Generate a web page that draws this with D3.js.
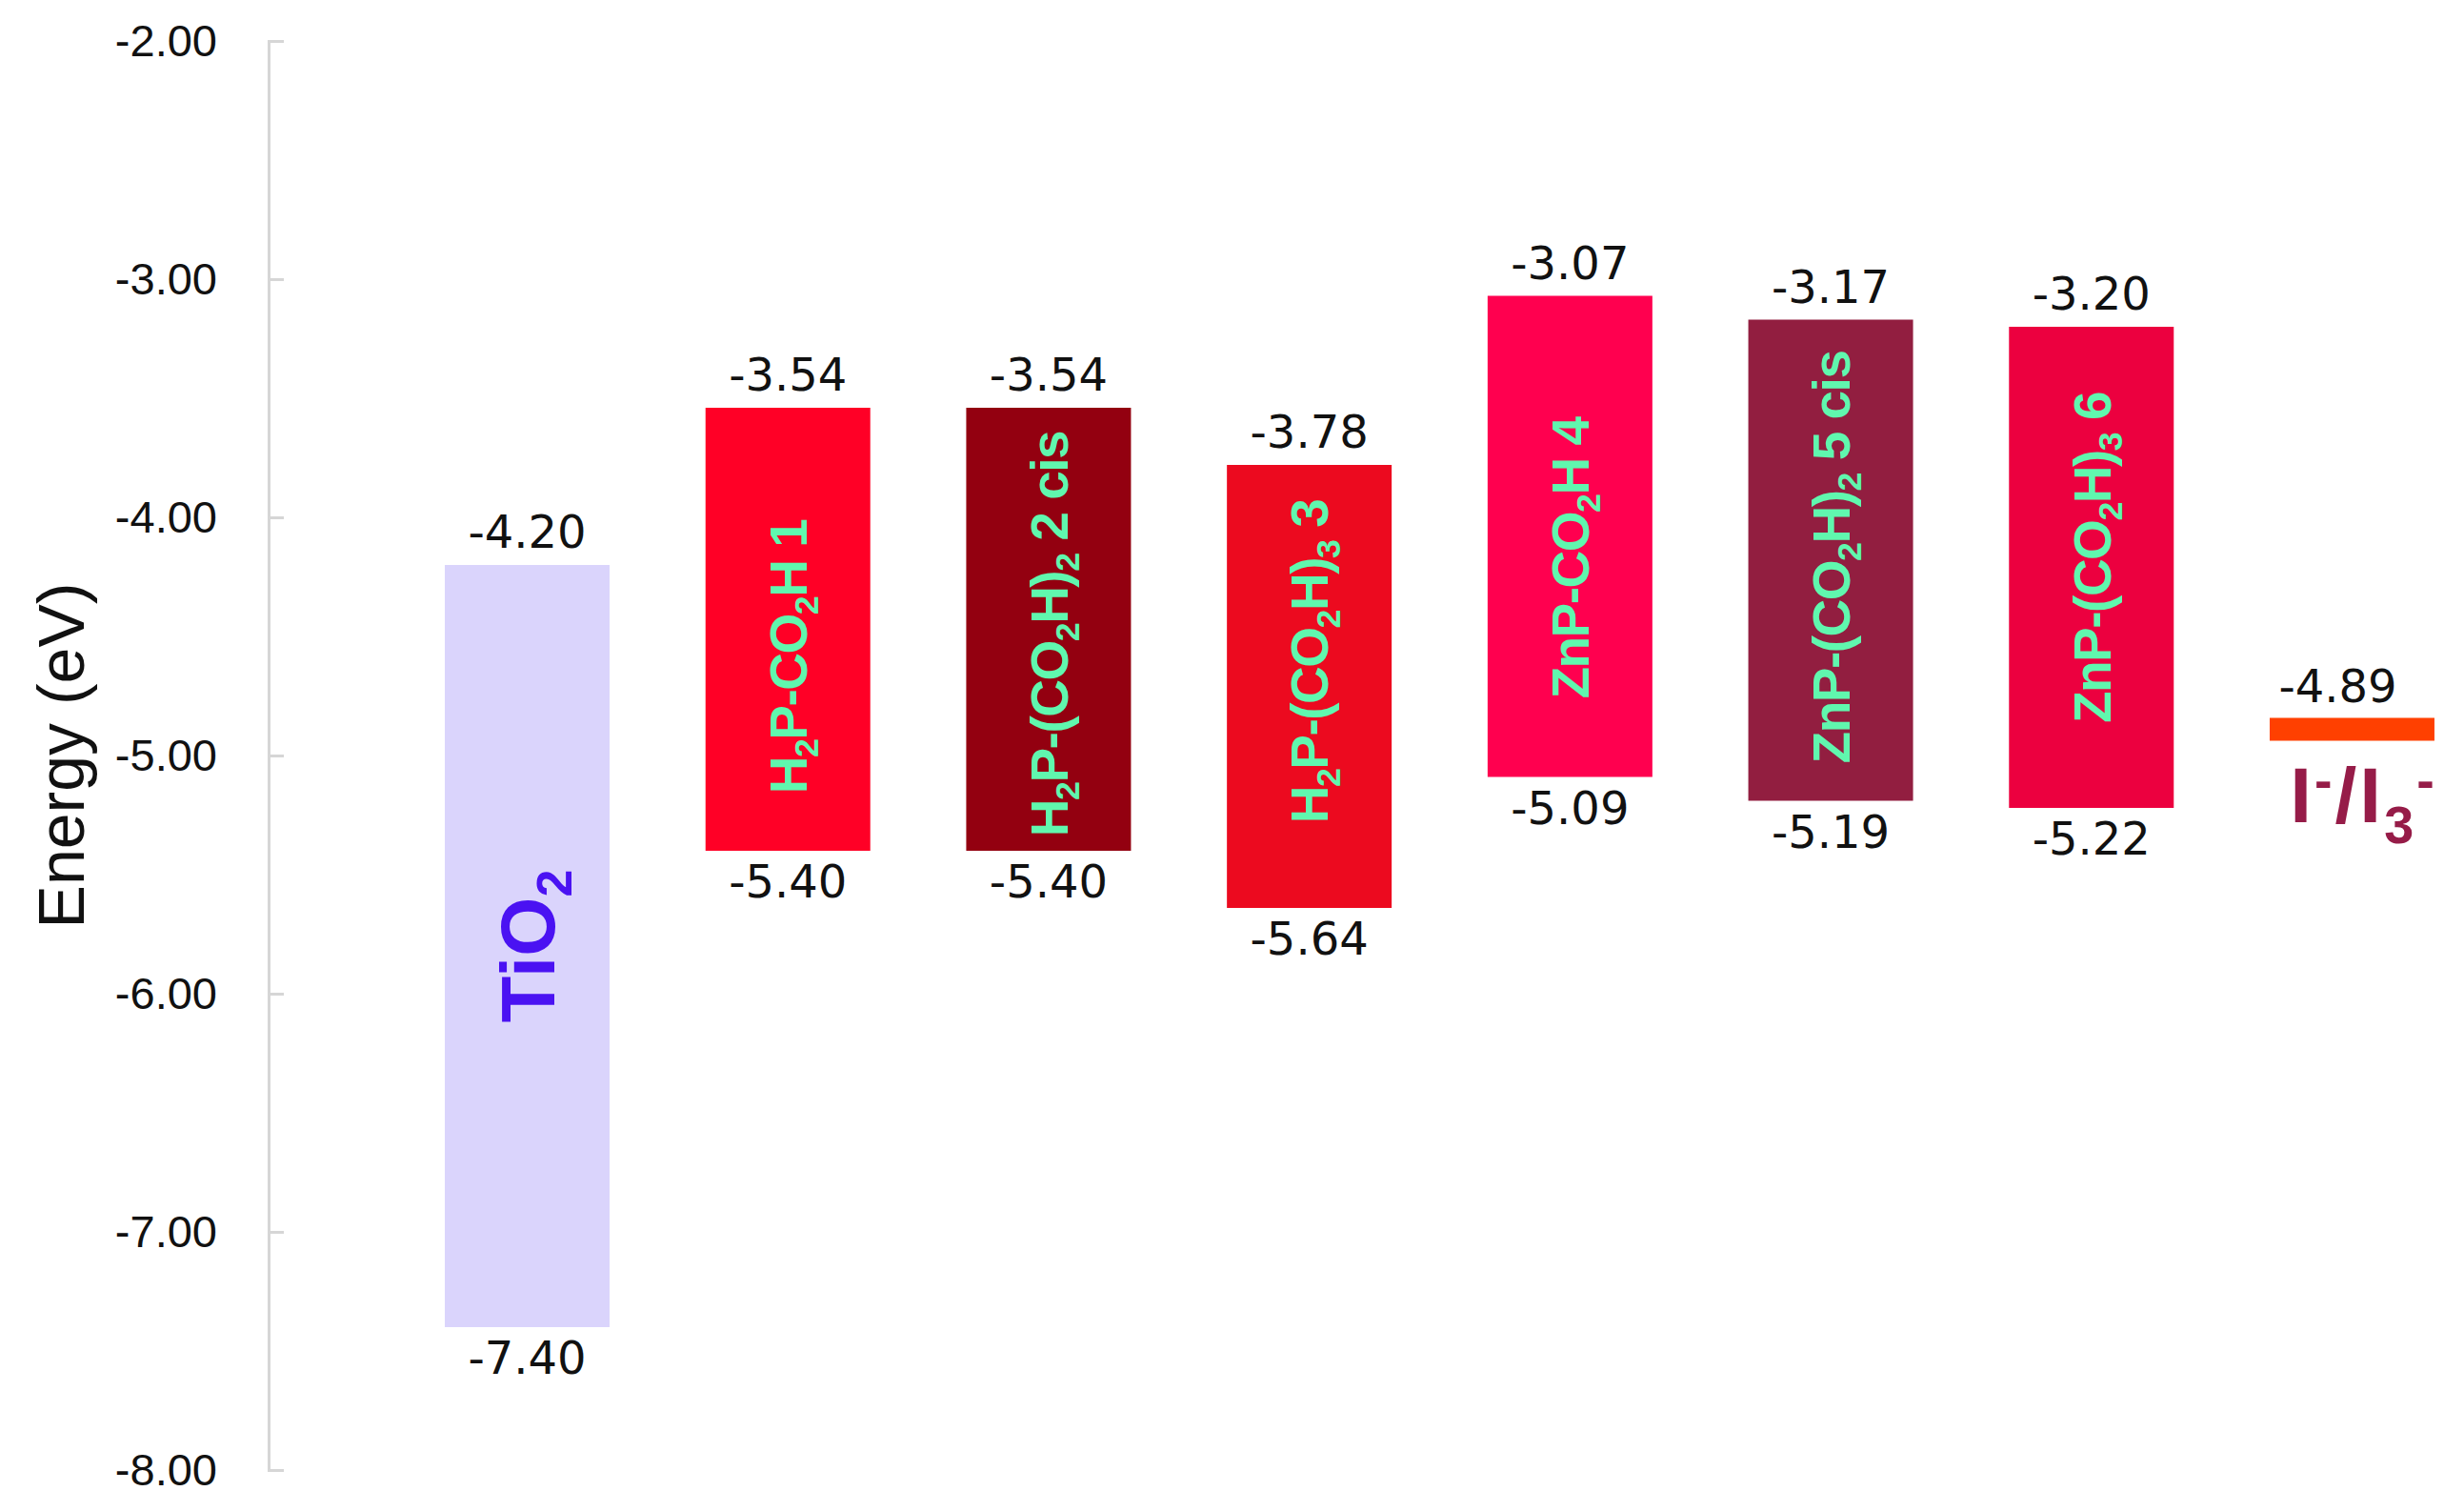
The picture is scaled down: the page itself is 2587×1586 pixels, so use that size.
<!DOCTYPE html>
<html>
<head>
<meta charset="utf-8">
<script src="https://cdn.jsdelivr.net/npm/d3@7"></script>
<style>
  html, body { margin: 0; padding: 0; background: #ffffff; }
  svg { display: block; }
</style>
</head>
<body>
<svg id="chart" width="2587" height="1586"></svg>
<script>
// ---------- data ----------
const categories = ["TiO2", "H2P-CO2H 1", "H2P-(CO2H)2 2 cis", "H2P-(CO2H)3 3",
                    "ZnP-CO2H 4", "ZnP-(CO2H)2 5 cis", "ZnP-(CO2H)3 6", "I-/I3-"];
const lumoValues = [-4.20, -3.54, -3.54, -3.78, -3.07, -3.17, -3.20, -4.89];
const homoValues = [-7.40, -5.40, -5.40, -5.64, -5.09, -5.19, -5.22, null];
const tickValues = [-2, -3, -4, -5, -6, -7, -8];
const tickLabels = ["-2.00", "-3.00", "-4.00", "-5.00", "-6.00", "-7.00", "-8.00"];
// rich-text label pieces: [text, role]
const labelParts = [
  [["Ti", ""], ["O", ""], ["2", "sub"]],
  [["H", ""], ["2", "sub"], ["P-CO", ""], ["2", "sub"], ["H 1", ""]],
  [["H", ""], ["2", "sub"], ["P-(CO", ""], ["2", "sub"], ["H)", ""], ["2", "sub"], [" 2 cis", ""]],
  [["H", ""], ["2", "sub"], ["P-(CO", ""], ["2", "sub"], ["H)", ""], ["3", "sub"], [" 3", ""]],
  [["ZnP-CO", ""], ["2", "sub"], ["H 4", ""]],
  [["ZnP-(CO", ""], ["2", "sub"], ["H)", ""], ["2", "sub"], [" 5 cis", ""]],
  [["ZnP-(CO", ""], ["2", "sub"], ["H)", ""], ["3", "sub"], [" 6", ""]],
  [["I", ""], ["-", "sup"], ["/I", ""], ["3", "sub"], ["-", "sup"]]
];
// styling (not data)
const barColors = ["#dad4fc", "#ff0026", "#930010", "#ec0a1f", "#ff004f", "#921e40", "#ec003f", "#ff4000"];
const labelNudge = [0, 29, 5, -26, 23, -3, -10, 0]; // hand-placed text boxes in the original (px)

// ---------- layout ----------
const svg = d3.select("#chart");
const axisX = 282;
const y = d3.scaleLinear().domain([-2, -8]).range([43, 1543]);
const x = d3.scaleBand().domain(categories).range([axisX, 2741])
  .paddingInner(0.368).paddingOuter(0.676);

// y axis
const axis = d3.axisLeft(y).tickValues(tickValues)
  .tickFormat((d, i) => tickLabels[i])
  .tickSizeInner(-16).tickSizeOuter(-16).tickPadding(54);
const gAxis = svg.append("g").attr("transform", `translate(${axisX},0)`).call(axis);
gAxis.select(".domain").attr("stroke", "#d6d6d6").attr("stroke-width", 3);
gAxis.selectAll(".tick line").attr("stroke", "#d6d6d6").attr("stroke-width", 3);
gAxis.selectAll(".tick text")
  .attr("font-family", "'Liberation Sans', Arial, sans-serif")
  .attr("font-size", 47).attr("fill", "#111");

// axis title
svg.append("text")
  .attr("transform", `translate(88,${(y(-2) + y(-8)) / 2}) rotate(-90)`)
  .attr("text-anchor", "middle")
  .attr("font-family", "'Liberation Sans', Arial, sans-serif")
  .attr("font-size", 68).attr("fill", "#111")
  .text("Energy (eV)");

const data = categories.map((c, i) => ({
  cat: c, top: lumoValues[i], bottom: homoValues[i], parts: labelParts[i], color: barColors[i], i
}));

// bars
const bars = data.filter(d => d.bottom !== null);
svg.selectAll("rect.bar").data(bars).enter().append("rect")
  .attr("class", "bar")
  .attr("x", d => x(d.cat))
  .attr("width", x.bandwidth())
  .attr("y", d => y(d.top))
  .attr("height", d => y(d.bottom) - y(d.top))
  .attr("fill", d => d.color);

// redox level (thin bar)
const levels = data.filter(d => d.bottom === null);
const levelThickness = 24;
svg.selectAll("rect.level").data(levels).enter().append("rect")
  .attr("class", "level")
  .attr("x", d => x(d.cat))
  .attr("width", x.bandwidth())
  .attr("y", d => y(d.top) - levelThickness / 2)
  .attr("height", levelThickness)
  .attr("fill", d => d.color);

// value labels
const numFont = "'DejaVu Sans', Verdana, sans-serif";
svg.selectAll("text.topval").data(data).enter().append("text")
  .attr("class", "topval")
  .attr("x", d => x(d.cat) + x.bandwidth() / 2 - (d.bottom === null ? 15 : 0))
  .attr("y", d => y(d.top) - (d.bottom === null ? levelThickness / 2 + 17 : 18))
  .attr("text-anchor", "middle")
  .attr("font-family", numFont).attr("font-size", 48).attr("fill", "#111")
  .text(d => d.top.toFixed(2));
svg.selectAll("text.botval").data(bars).enter().append("text")
  .attr("class", "botval")
  .attr("x", d => x(d.cat) + x.bandwidth() / 2)
  .attr("y", d => y(d.bottom) + 49)
  .attr("text-anchor", "middle")
  .attr("font-family", numFont).attr("font-size", 48).attr("fill", "#111")
  .text(d => d.bottom.toFixed(2));

// rich text helper
function richText(sel, parts, fs, subScale, subShift, supShift) {
  let shift = 0;
  parts.forEach(([t, role]) => {
    const target = role === "sub" ? subShift * fs : role === "sup" ? -supShift * fs : 0;
    const ts = sel.append("tspan").text(t).attr("dy", target - shift);
    if (role) ts.attr("font-size", fs * subScale);
    shift = target;
  });
}

// bar labels (rotated)
bars.forEach(d => {
  const cx = x(d.cat) + x.bandwidth() / 2;
  const cy = (y(d.top) + y(d.bottom)) / 2 + labelNudge[d.i];
  const isTi = d.i === 0;
  const fs = isTi ? 80 : 55;
  const t = svg.append("text")
    .attr("transform", `translate(${cx + fs * 0.36},${cy}) rotate(-90)`)
    .attr("text-anchor", "middle")
    .attr("font-family", "'Liberation Sans', Arial, sans-serif")
    .attr("font-weight", "bold")
    .attr("font-size", fs)
    .attr("letter-spacing", isTi ? 0 : -1.5)
    .attr("fill", isTi ? "#4a12f2" : "#60f7ae");
  richText(t, d.parts, fs, 0.65, 0.22, 0.36);
});

// redox label
levels.forEach(d => {
  const cx = x(d.cat) + x.bandwidth() / 2;
  const t = svg.append("text")
    .attr("x", cx + 12)
    .attr("y", y(d.top) + 97)
    .attr("text-anchor", "middle")
    .attr("font-family", "'Liberation Sans', Arial, sans-serif")
    .attr("font-weight", "bold")
    .attr("font-size", 82)
    .attr("letter-spacing", 3)
    .attr("fill", "#961c48");
  richText(t, d.parts, 82, 0.68, 0.27, 0.3);
});
</script>
</body>
</html>
